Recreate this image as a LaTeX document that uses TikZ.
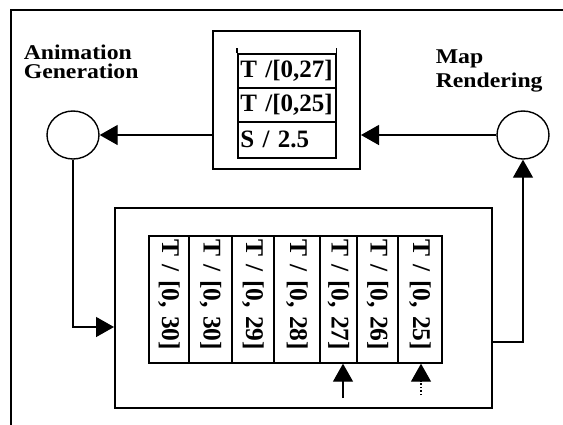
\documentclass[tikz,border=0pt]{standalone}
\usepackage{fontspec}
\setmainfont{Liberation Serif}
\usetikzlibrary{arrows.meta,shapes.geometric}
\begin{document}
\begin{tikzpicture}[x=1pt,y=-1pt,line width=1.4pt,
  lbl/.style={font=\fontsize{21}{19}\selectfont\bfseries,align=left,inner sep=0,anchor=base west,xscale=1.13},
  rowcell/.style={draw,line width=1.6pt,anchor=north west,minimum width=98pt,text width=93pt,align=left,inner sep=2.5pt,font=\fontsize{25}{26}\selectfont\bfseries},
  stripcell/.style={draw,line width=1.4pt,rotate=-90,minimum width=127pt,text width=121pt,align=left,inner sep=3pt,font=\fontsize{25.5}{26}\selectfont\bfseries},
  bigbox/.style={draw,line width=2pt,anchor=north west,inner sep=0},
  circ/.style={draw,ellipse,line width=1.4pt,minimum width=52pt,minimum height=48pt,inner sep=0},
  arr/.style={-{Triangle[length=18pt,width=20pt]}}]
\useasboundingbox (0,0) rectangle (563,424);
% outer frame (clipped at right and bottom)
\draw[line width=2.4pt] (570,10) -- (11,10) -- (11,430);
% top box and its table
\node[bigbox,minimum width=147pt,minimum height=138pt] (topbox) at (212,30) {};
\node[rowcell,minimum height=34pt] (r1) at (237,53) {T /[0,27]};
\node[rowcell,minimum height=34pt] (r2) at (237,87) {T /[0,25]};
\node[rowcell,minimum height=36pt] (r3) at (237,121) {S / 2.5};
\draw[line width=1.4pt] (r1.north west) -- ++(0,-5);
\draw[line width=1.4pt] (r1.north east) -- ++(0,-5);
% circles and labels
\node[circ] (ag) at (73,135) {};
\node[circ] (mr) at (523,135) {};
\node[lbl] (aglbl) at (23,78) {Animation\\Generation};
\node[lbl,font=\fontsize{21}{24}\selectfont\bfseries] (mrlbl) at (435,87) {Map\\Rendering};
% lower box and strip
\node[bigbox,minimum width=377pt,minimum height=200pt] (lowbox) at (114,207) {};
\node[stripcell,minimum height=40pt] (c1) at (169,299.5) {T / [0, 30]};
\node[stripcell,minimum height=43pt] (c2) at (210.5,299.5) {T / [0, 30]};
\node[stripcell,minimum height=42pt] (c3) at (253,299.5) {T / [0, 29]};
\node[stripcell,minimum height=46pt] (c4) at (297,299.5) {T / [0, 28]};
\node[stripcell,minimum height=37pt] (c5) at (338.5,299.5) {T / [0, 27]};
\node[stripcell,minimum height=41pt] (c6) at (377.5,299.5) {T / [0, 26]};
\node[stripcell,minimum height=44pt] (c7) at (420,299.5) {T / [0, 25]};
% connectors
\coordinate (inL) at (114,327);
\coordinate (outR) at (491,342);
\coordinate (p1) at (343,398);
\coordinate (p2) at (421,395);
\draw[arr] (topbox.west |- ag.east) -- (ag.east);
\draw[arr] (mr.west) -- (mr.west -| topbox.east);
\draw[arr] (ag.south) |- (inL);
\draw[arr] (outR) -| (mr.south);
\draw[arr] (p1) -- (p1 |- c5.east);
\draw[arr,dotted] (p2) -- (p2 |- c7.east);
\end{tikzpicture}
\end{document}
